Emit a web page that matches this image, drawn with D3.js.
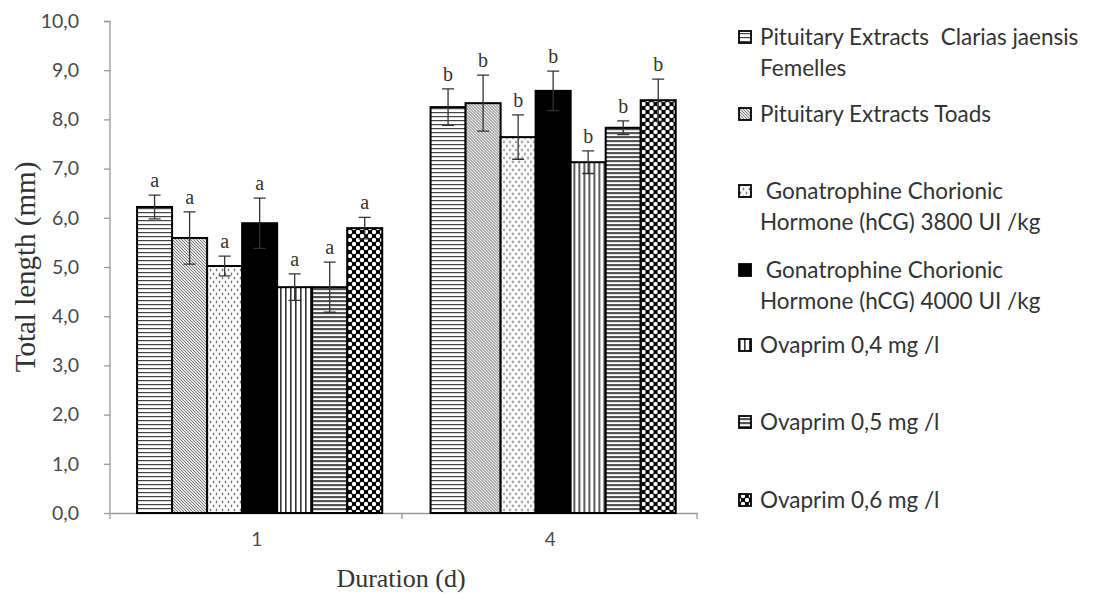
<!DOCTYPE html>
<html><head><meta charset="utf-8">
<script src="https://cdn.jsdelivr.net/npm/d3@7"></script>
<style>body{margin:0;background:#fff}svg{display:block}</style>
</head><body><svg id="c" width="1099" height="602"></svg>
<script>
const categories = ["1", "4"];
const seriesNames = [
  "Pituitary Extracts  Clarias jaensis|Femelles",
  "Pituitary Extracts Toads",
  " Gonatrophine Chorionic|Hormone (hCG) 3800 UI /kg",
  " Gonatrophine Chorionic|Hormone (hCG) 4000 UI /kg",
  "Ovaprim 0,4 mg /l",
  "Ovaprim 0,5 mg /l",
  "Ovaprim 0,6 mg /l"
];
const values1 = [6.22, 5.59, 5.02, 5.89, 4.59, 4.59, 5.79];
const values4 = [8.25, 8.33, 7.64, 8.58, 7.13, 7.83, 8.39];
const errors1 = [0.24, 0.53, 0.20, 0.51, 0.27, 0.51, 0.22];
const errors4 = [0.37, 0.57, 0.45, 0.40, 0.23, 0.14, 0.43];
const letters = ["a", "b"];
const yTicks = [0,1,2,3,4,5,6,7,8,9,10];
const legendY = [37, 114, 191, 270, 345, 422, 500];

const svg = d3.select("#c");
const defs = svg.append("defs");
function pat(id, w, h, draw) {
  const p = defs.append("pattern").attr("id", id).attr("patternUnits", "userSpaceOnUse")
    .attr("width", w).attr("height", h);
  draw(p);
}
pat("p0", 4, 4, p => {
  p.append("rect").attr("width", 4).attr("height", 4).attr("fill", "#fff");
  p.append("rect").attr("y", 0).attr("width", 4).attr("height", 1.2).attr("fill", "#444");
});
pat("p1", 3, 3, p => {
  p.append("rect").attr("width", 3).attr("height", 3).attr("fill", "#e4e4e4");
  p.append("path").attr("d", "M0,0L3,3M-1,2L1,4M2,-1L4,1").attr("stroke", "#666").attr("stroke-width", 0.8);
});
pat("p2", 6, 8, p => {
  p.append("rect").attr("width", 6).attr("height", 8).attr("fill", "#fff");
  p.append("ellipse").attr("cx", 1.5).attr("cy", 2).attr("rx", 0.8).attr("ry", 1.4).attr("fill", "#777");
  p.append("ellipse").attr("cx", 4.5).attr("cy", 6).attr("rx", 0.8).attr("ry", 1.4).attr("fill", "#777");
});
pat("p4", 5, 5, p => {
  p.append("rect").attr("width", 5).attr("height", 5).attr("fill", "#fff");
  p.append("rect").attr("x", 0).attr("width", 1.6).attr("height", 5).attr("fill", "#333");
});
pat("p5", 4, 4, p => {
  p.append("rect").attr("width", 4).attr("height", 4).attr("fill", "#fff");
  p.append("rect").attr("y", 0).attr("width", 4).attr("height", 2.2).attr("fill", "#555");
});
pat("p6", 8, 8, p => {
  p.append("rect").attr("width", 8).attr("height", 8).attr("fill", "#000");
  [[0,0],[8,0],[0,8],[8,8],[4,4]].forEach(([cx, cy]) =>
    p.append("circle").attr("cx", cx).attr("cy", cy).attr("r", 2.2).attr("fill", "#fff"));
});
const fills = ["url(#p0)", "url(#p1)", "url(#p2)", "#000", "url(#p4)", "url(#p5)", "url(#p6)"];

const y = d3.scaleLinear().domain([0, 10]).range([513, 21]);
const x0 = d3.scaleBand().domain(categories).range([110, 697]).padding(0);
const x1 = d3.scaleBand().domain(d3.range(7)).range([0, x0.bandwidth()])
  .paddingInner(0).paddingOuter(0.69).align(0.56);

const data = categories.map((c, ci) => ({
  cat: c, letter: letters[ci],
  vals: (ci === 0 ? values1 : values4).map((v, i) => ({i, v, e: (ci === 0 ? errors1 : errors4)[i]}))
}));

const sansFont = "Lato, 'Open Sans', sans-serif";
const serifFont = "'Liberation Serif', 'Times New Roman', serif";

// axes
const yAxis = svg.append("g").attr("transform", "translate(110,0)")
  .call(d3.axisLeft(y).tickValues(yTicks).tickSize(6).tickPadding(25)
    .tickFormat(d => d3.format(".1f")(d).replace(".", ",")));
yAxis.select(".domain").attr("stroke", "#999").attr("stroke-width", 1.3).attr("d", "M-6,21.5H0V513");
yAxis.selectAll(".tick line").attr("stroke", "#999").attr("stroke-width", 1.3);
yAxis.selectAll(".tick text").attr("font-family", sansFont).attr("font-size", 19.5).attr("fill", "#4a4a4a");

const xAxis = svg.append("g").attr("transform", "translate(0,513)")
  .call(d3.axisBottom(x0).tickSize(0).tickPadding(20));
xAxis.select(".domain").attr("stroke", "#999").attr("stroke-width", 1.3);
xAxis.selectAll(".tick text").attr("font-family", sansFont).attr("font-size", 19).attr("fill", "#4a4a4a");
[110, 402, 697].forEach(t => svg.append("line").attr("x1", t).attr("x2", t).attr("y1", 513).attr("y2", 519).attr("stroke", "#999").attr("stroke-width", 1.3));

// bars
const groups = svg.append("g").selectAll("g").data(data).join("g")
  .attr("transform", d => `translate(${x0(d.cat)},0)`);
groups.selectAll("rect").data(d => d.vals).join("rect")
  .attr("x", d => x1(d.i)).attr("width", x1.bandwidth())
  .attr("y", d => y(d.v)).attr("height", d => y(0) - y(d.v))
  .attr("fill", d => fills[d.i]).attr("stroke", "#000").attr("stroke-width", 2);
groups.each(function(g) {
  const sel = d3.select(this);
  g.vals.forEach(d => {
    const cx = x1(d.i) + x1.bandwidth() / 2;
    const t = y(d.v + d.e), b = y(d.v - d.e);
    sel.append("path").attr("d", `M${cx},${t}V${b}M${cx-6},${t}H${cx+6}M${cx-6},${b}H${cx+6}`)
      .attr("stroke", "#333").attr("stroke-width", 1.3).attr("fill", "none");
    sel.append("text").attr("x", cx).attr("y", t - 8).attr("text-anchor", "middle")
      .attr("font-family", serifFont).attr("font-size", 20)
      .attr("fill", "#333").text(g.letter);
  });
});

// titles
svg.append("text").attr("transform", "translate(35,267) rotate(-90)").attr("text-anchor", "middle")
  .attr("font-family", serifFont).attr("font-size", 29).attr("fill", "#333")
  .text("Total length (mm)");
svg.append("text").attr("x", 401).attr("y", 587).attr("text-anchor", "middle")
  .attr("font-family", serifFont).attr("font-size", 26).attr("fill", "#333")
  .text("Duration (d)");

// legend
const leg = svg.append("g").selectAll("g").data(seriesNames).join("g")
  .attr("transform", (d, i) => `translate(739,${legendY[i]})`);
leg.append("rect").attr("x", 0).attr("y", -6).attr("width", 12).attr("height", 12)
  .attr("fill", (d, i) => fills[i]).attr("stroke", "#000").attr("stroke-width", 1.8);
leg.each(function(d) {
  const lines = d.split("|");
  const t = d3.select(this).append("text").attr("font-family", sansFont)
    .attr("font-size", 22.5).attr("fill", "#333");
  lines.forEach((l, k) => t.append("tspan").attr("x", 21).attr("y", 7.5 + k * 31).attr("xml:space", "preserve").text(l));
});
</script></body></html>
